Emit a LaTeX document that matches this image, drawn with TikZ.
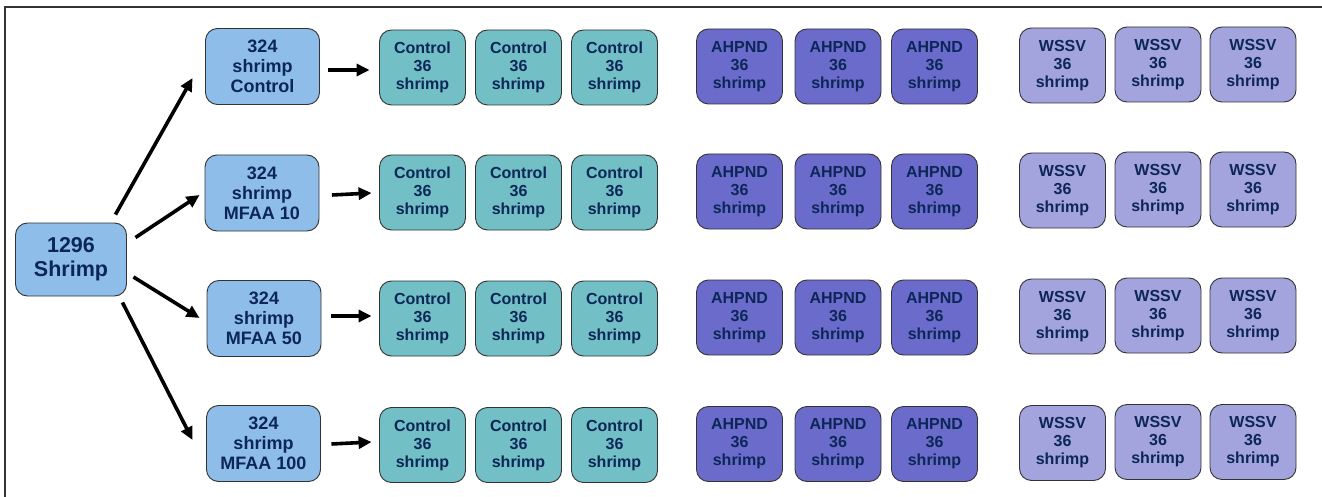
\documentclass[tikz,border=0pt]{standalone}
\usepackage{fontspec}
\setmainfont{Liberation Sans}
\usetikzlibrary{arrows.meta}
\definecolor{txt}{HTML}{0C2757}
\definecolor{mainblue}{HTML}{8DBDE8}
\definecolor{teal}{HTML}{72BFC5}
\definecolor{ahpnd}{HTML}{6B6BCB}
\definecolor{wssv}{HTML}{A3A3DD}
\definecolor{bord}{HTML}{333333}
\tikzset{
  box/.style={draw=bord, line width=0.9pt, rounded corners=12pt, align=center,
    text=txt, font=\bfseries, inner sep=0pt},
  grp/.style={box, fill=mainblue, minimum width=114pt, minimum height=76pt,
    font=\bfseries\fontsize{18}{20}\selectfont},
  small/.style={box, minimum width=86pt, minimum height=75pt,
    font=\bfseries\fontsize{16}{18}\selectfont},
  ctl/.style={small, fill=teal},
  ahp/.style={small, fill=ahpnd},
  wss/.style={small, fill=wssv},
  arr/.style={line width=3.6pt, -{Triangle[length=13pt,width=12pt]}},
}
\begin{document}
\begin{tikzpicture}[x=1pt,y=-1pt]
\useasboundingbox (0,0) rectangle (1322,497);
\draw[line width=1.2pt, draw=bord] (5,497) -- (5,7) -- (1322,7);
\node[box, fill=mainblue, minimum width=111pt, minimum height=73pt,
  font=\bfseries\fontsize{21.5}{24}\selectfont] (root) at (71,259.5) {1296\\Shrimp};
\node[grp] (g1) at (262.5,66.5) {324\\shrimp\\Control};
\node[grp] (g2) at (262,193) {324\\shrimp\\MFAA 10};
\node[grp] (g3) at (264,318.5) {324\\shrimp\\MFAA 50};
\node[grp] (g4) at (263.5,443.5) {324\\shrimp\\MFAA 100};
\foreach \r/\y in {1/67.5, 2/192.5, 3/318.5, 4/445} {
  \node[ctl] (c\r a) at (422.5,\y) {Control\\36\\shrimp};
  \node[ctl] (c\r b) at (518.5,\y) {Control\\36\\shrimp};
  \node[ctl] (c\r c) at (614.5,\y) {Control\\36\\shrimp};
  \node[ahp] (a\r a) at (739.5,\y-1) {AHPND\\36\\shrimp};
  \node[ahp] (a\r b) at (838,\y-1) {AHPND\\36\\shrimp};
  \node[ahp] (a\r c) at (934.5,\y-1) {AHPND\\36\\shrimp};
  \node[wss] (w\r a) at (1062.5,\y-2) {WSSV\\36\\shrimp};
  \node[wss] (w\r b) at (1158,\y-3) {WSSV\\36\\shrimp};
  \node[wss] (w\r c) at (1253,\y-3) {WSSV\\36\\shrimp};
}
% root to group arrows
\draw[arr] ([xshift=-11.5pt,yshift=8pt]root.north east) -- ([xshift=-12.5pt,yshift=-11.5pt]g1.west);
\draw[arr] ([xshift=8.5pt,yshift=-15pt]root.north east) -- ([xshift=-5pt,yshift=-2pt]g2.west);
\draw[arr] ([xshift=6.5pt,yshift=-17.5pt]root.east) -- ([xshift=-7pt,yshift=0.5pt]g3.west);
\draw[arr] ([xshift=-4.5pt,yshift=-6pt]root.south east) -- ([xshift=-13.5pt,yshift=3.5pt]g4.west);
% group to first control arrows
\draw[arr] ([xshift=8.5pt,yshift=-3.5pt]g1.east) -- ([xshift=-9.5pt,yshift=-2.5pt]c1a.west);
\draw[arr] ([xshift=12.5pt,yshift=-2pt]g2.east) -- ([xshift=-7.5pt,yshift=-0.5pt]c2a.west);
\draw[arr] ([xshift=10pt,yshift=2.5pt]g3.east) -- ([xshift=-7.5pt,yshift=2.5pt]c3a.west);
\draw[arr] ([xshift=10.5pt,yshift=-0.5pt]g4.east) -- ([xshift=-7.5pt,yshift=3pt]c4a.west);
\end{tikzpicture}
\end{document}
